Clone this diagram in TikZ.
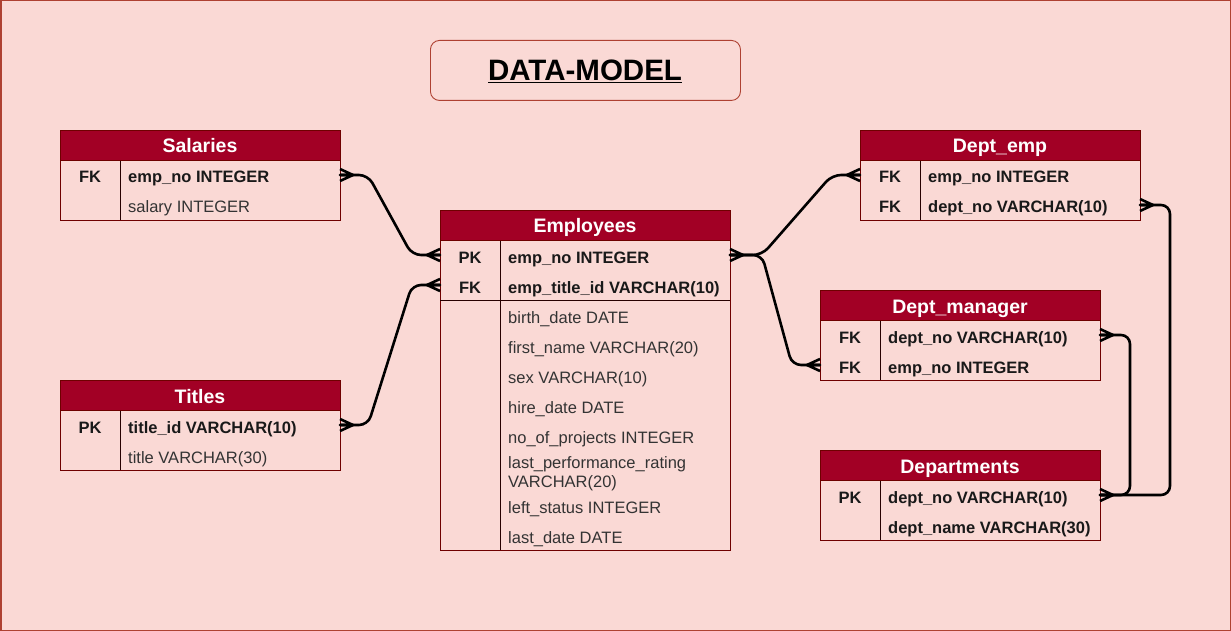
\documentclass[tikz,border=0pt]{standalone}
\usepackage{fontspec}
\setmainfont{Liberation Sans}
\definecolor{bgpink}{HTML}{FAD9D5}
\definecolor{bgedge}{HTML}{AE4132}
\definecolor{hdrred}{HTML}{A20025}
\definecolor{tedge}{HTML}{6F0000}
\definecolor{txtgray}{HTML}{333333}
\tikzset{
  hdrbox/.style={fill=hdrred, draw=tedge, line width=0.8pt, anchor=north west, minimum height=30pt, inner sep=0pt},
  hdrtxt/.style={text=white, font=\fontsize{19.5}{22}\selectfont\bfseries, anchor=base, inner sep=0pt},
  body/.style={draw=tedge, line width=0.8pt},
  sep/.style={draw=black!85!red, line width=0.8pt},
  keyt/.style={font=\fontsize{16.5}{19}\selectfont\bfseries, text=black!90, inner sep=0pt, anchor=base},
  fldb/.style={font=\fontsize{16.5}{19}\selectfont\bfseries, text=black!90, anchor=base west, inner sep=0pt},
  fldn/.style={font=\fontsize{16.5}{19}\selectfont, text=txtgray, anchor=base west, inner sep=0pt},
  conn/.style={draw=black, line width=2.6pt, rounded corners=9pt, line cap=round},
  crow/.style={draw=black, line width=2.6pt, line join=miter},
}
\newcommand\crowR[1]{\draw[crow] ([yshift=6pt]#1) -- ([xshift=13pt]#1) -- ([yshift=-6pt]#1) ([xshift=13pt]#1) -- (#1);}
\newcommand\crowL[1]{\draw[crow] ([yshift=6pt]#1) -- ([xshift=-13pt]#1) -- ([yshift=-6pt]#1) ([xshift=-13pt]#1) -- (#1);}
\begin{document}
\begin{tikzpicture}[x=1pt,y=-1pt]
\useasboundingbox (0,0) rectangle (1231,631);
\fill[bgpink] (0,0) rectangle (1231,631);
\draw[bgedge, line width=1.5pt] (0.75,0.75) rectangle (1230.25,630.25);

% title
\node[draw=bgedge, fill=bgpink, rounded corners=9pt, line width=0.9pt, minimum width=310pt, minimum height=60pt, anchor=north west, inner sep=0pt] (titlebox) at (430,40) {};
\node[font=\fontsize{29.5}{32}\selectfont\bfseries, anchor=base] (title) at (585,81) {\underline{DATA-MODEL}};

% ---------- Salaries ----------
\draw[body] (60,160) rectangle (340,220);
\draw[sep] (120,160) -- (120,220);
\node[hdrbox, minimum width=280pt] (salh) at (60,130) {};
\node[hdrtxt] (salht) at (200,153) {Salaries};
\node[keyt] (salk1) at (90,183) {FK};
\node[fldb] (salf1) at (128,183) {emp\_no INTEGER};
\node[fldn] (salf2) at (128,213) {salary INTEGER};
\coordinate (salR1) at (340,175);

% ---------- Titles ----------
\draw[body] (60,410) rectangle (340,470);
\draw[sep] (120,410) -- (120,470);
\node[hdrbox, minimum width=280pt] (tith) at (60,380) {};
\node[hdrtxt] (titht) at (200,403) {Titles};
\node[keyt] (titk1) at (90,433) {PK};
\node[fldb] (titf1) at (128,433) {title\_id VARCHAR(10)};
\node[fldn] (titf2) at (128,463) {title VARCHAR(30)};
\coordinate (titR1) at (340,425);

% ---------- Employees ----------
\draw[body] (440,240) rectangle (730,550);
\draw[sep] (500,240) -- (500,550);
\draw[sep] (440,300) -- (730,300);
\node[hdrbox, minimum width=290pt] (emph) at (440,210) {};
\node[hdrtxt] (empht) at (585,233) {Employees};
\node[keyt] (empk1) at (470,263) {PK};
\node[keyt] (empk2) at (470,293) {FK};
\node[fldb] (empf1) at (508,263) {emp\_no INTEGER};
\node[fldb] (empf2) at (508,293) {emp\_title\_id VARCHAR(10)};
\node[fldn] (empf3) at (508,323) {birth\_date DATE};
\node[fldn] (empf4) at (508,353) {first\_name VARCHAR(20)};
\node[fldn] (empf5) at (508,383) {sex VARCHAR(10)};
\node[fldn] (empf6) at (508,413) {hire\_date DATE};
\node[fldn] (empf7) at (508,443) {no\_of\_projects INTEGER};
\node[fldn] (empf8a) at (508,468) {last\_performance\_rating};
\node[fldn] (empf8b) at (508,487) {VARCHAR(20)};
\node[fldn] (empf9) at (508,513) {left\_status INTEGER};
\node[fldn] (empf10) at (508,543) {last\_date DATE};
\coordinate (empL1) at (440,255);
\coordinate (empL2) at (440,285);
\coordinate (empR1) at (730,255);

% ---------- Dept_emp ----------
\draw[body] (860,160) rectangle (1140,220);
\draw[sep] (920,160) -- (920,220);
\node[hdrbox, minimum width=280pt] (deh) at (860,130) {};
\node[hdrtxt] (deht) at (1000,153) {Dept\_emp};
\node[keyt] (dek1) at (890,183) {FK};
\node[keyt] (dek2) at (890,213) {FK};
\node[fldb] (def1) at (928,183) {emp\_no INTEGER};
\node[fldb] (def2) at (928,213) {dept\_no VARCHAR(10)};
\coordinate (deL1) at (860,175);
\coordinate (deR2) at (1140,205);

% ---------- Dept_manager ----------
\draw[body] (820,320) rectangle (1100,380);
\draw[sep] (880,320) -- (880,380);
\node[hdrbox, minimum width=280pt] (dmh) at (820,290) {};
\node[hdrtxt] (dmht) at (960,313) {Dept\_manager};
\node[keyt] (dmk1) at (850,343) {FK};
\node[keyt] (dmk2) at (850,373) {FK};
\node[fldb] (dmf1) at (888,343) {dept\_no VARCHAR(10)};
\node[fldb] (dmf2) at (888,373) {emp\_no INTEGER};
\coordinate (dmR1) at (1100,335);
\coordinate (dmL2) at (820,365);

% ---------- Departments ----------
\draw[body] (820,480) rectangle (1100,540);
\draw[sep] (880,480) -- (880,540);
\node[hdrbox, minimum width=280pt] (dph) at (820,450) {};
\node[hdrtxt] (dpht) at (960,473) {Departments};
\node[keyt] (dpk1) at (850,503) {PK};
\node[fldb] (dpf1) at (888,503) {dept\_no VARCHAR(10)};
\node[fldb] (dpf2) at (888,533) {dept\_name VARCHAR(30)};
\coordinate (dpR1) at (1100,495);

% ---------- connectors ----------
\draw[conn] (salR1) -- (368,175) -- (412,255) -- (empL1);
\draw[conn] (titR1) -- (368,425) -- (412,285) -- (empL2);
\draw[conn] (empR1) -- (762,255) -- (832,175) -- (deL1);
\draw[conn] (empR1) -- (762,255) -- (792,365) -- (dmL2);
\draw[conn] (deR2) -- (1170,205) -- (1170,495) -- (dpR1);
\draw[conn] (dmR1) -- (1130,335) -- (1130,495) -- (dpR1);

% crow's feet
\crowR{salR1}
\crowR{titR1}
\crowL{empL1}
\crowL{empL2}
\crowR{empR1}
\crowL{deL1}
\crowR{deR2}
\crowR{dmR1}
\crowL{dmL2}
\crowR{dpR1}
\end{tikzpicture}
\end{document}
